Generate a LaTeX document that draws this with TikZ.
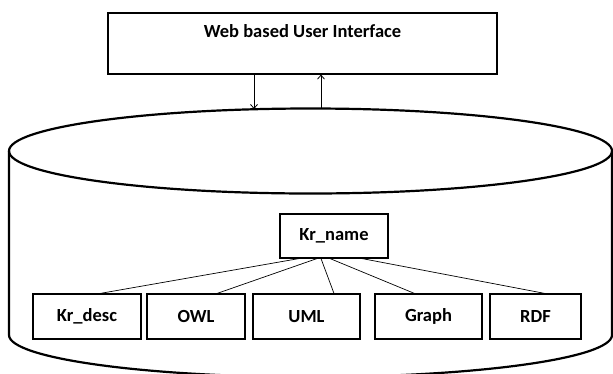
\documentclass[tikz,border=0pt]{standalone}
\usepackage{fontspec}
\setmainfont{Carlito}
\usetikzlibrary{arrows.meta}
\tikzset{
  label font/.style={font=\bfseries\fontsize{18.5}{22}\selectfont},
  box/.style={draw, line width=1.1pt, inner sep=0pt, label font},
  leaf/.style={box, minimum height=45pt},
  link/.style={line width=0.7pt},
  flow/.style={line width=0.8pt, -{Straight Barb[length=4pt,width=7pt,line width=0.8pt]}},
  cyl/.style={line width=2.2pt}
}
\begin{document}
\begin{tikzpicture}[x=1pt,y=-1pt]
\useasboundingbox (0,0) rectangle (613,373);
\clip (0,0) rectangle (613,373);

% user interface box
\node[box, minimum width=389pt, minimum height=61pt] (ui) at (302.5,43.5) {};
\node[label font] (uitext) at (302.5,31) {Web based User Interface};

% repository cylinder
\draw[cyl] (310.5,151) ellipse [x radius=301.5, y radius=42.5];
\draw[cyl] (9,151) -- (9,335) arc [start angle=180, end angle=0, x radius=301.5, y radius=42] -- (612,151);
\coordinate (downend) at (254,109);
\coordinate (upstart) at (321,108);

% data nodes
\node[box, minimum width=108pt, minimum height=44pt] (kr) at (334,236) {Kr\_name};
\node[leaf, minimum width=108pt] (kd) at (87,316.5) {Kr\_desc};
\node[leaf, minimum width=98pt] (owl) at (196,316.5) {OWL};
\node[leaf, minimum width=107pt] (uml) at (306.5,316.5) {UML};
\node[leaf, minimum width=107pt] (gr) at (428.5,316.5) {Graph};
\node[leaf, minimum width=91pt] (rdf) at (535.5,316.5) {RDF};

% tree links
\draw[link] ([xshift=-35pt]kr.south) -- ([xshift=13pt]kd.north);
\draw[link] ([xshift=-17pt]kr.south) -- ([xshift=21pt]owl.north);
\draw[link] ([xshift=-13pt]kr.south) -- ([xshift=27.5pt]uml.north);
\draw[link] ([xshift=-4pt]kr.south) -- ([xshift=-14pt]gr.north);
\draw[link] ([xshift=28pt]kr.south) -- ([xshift=9.5pt]rdf.north);

% request / response arrows
\draw[flow] (ui.south -| downend) -- (downend);
\draw[flow] (upstart) -- (ui.south -| upstart);
\end{tikzpicture}
\end{document}
